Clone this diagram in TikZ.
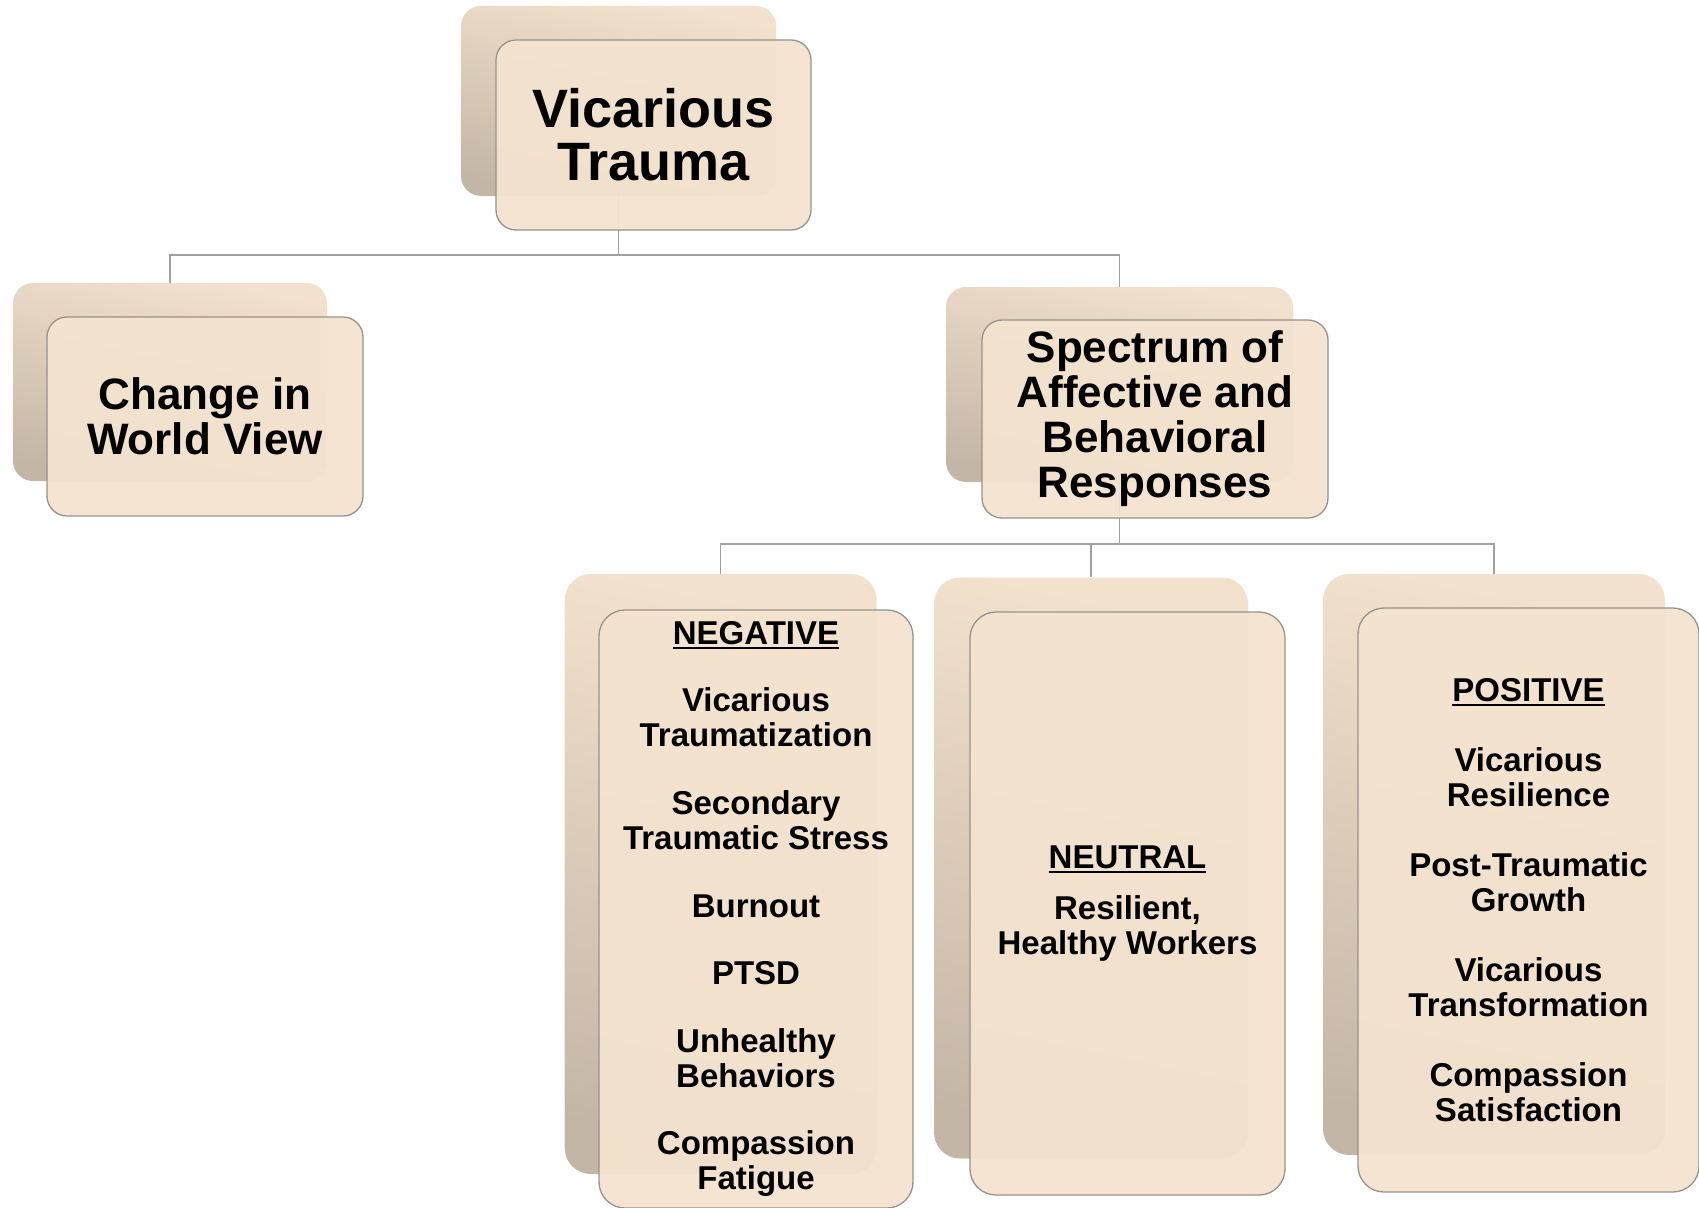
\documentclass[tikz,border=0pt]{standalone}
\usepackage{fontspec}
\setmainfont{Liberation Sans}
\definecolor{frontfill}{RGB}{243,227,207}
\definecolor{backlight}{RGB}{242,226,205}
\definecolor{backdark}{RGB}{196,182,167}
\definecolor{frontline}{RGB}{150,146,140}
\definecolor{connline}{RGB}{160,160,160}
\newcommand\hdr[1]{\setbox0\hbox{#1}\rlap{\rule[-4.5pt]{\wd0}{2.2pt}}\box0}
\begin{document}
\begin{tikzpicture}[x=1pt,y=-1pt,
  backbox/.style={rectangle, rounded corners=#1, top color=backlight, bottom color=backdark, shading angle=-12, inner sep=0pt},
  backbox/.default=20pt,
  frontbox/.style={rectangle, rounded corners=#1, draw=frontline, line width=1.3pt, fill=frontfill, fill opacity=0.95, text opacity=1, align=center, inner sep=0pt, font=\bfseries},
  frontbox/.default=20pt,
  conn/.style={draw=connline, line width=1.5pt},
  bigtxt/.style={font=\bfseries\fontsize{54}{53}\selectfont},
  midtxt/.style={font=\bfseries\fontsize{44}{45}\selectfont},
  smalltxt/.style={font=\bfseries\fontsize{33}{35}\selectfont}]
\useasboundingbox (0,0) rectangle (1699,1207);
% back boxes
\node[backbox, minimum width=315pt, minimum height=190pt] (vtb) at (618.5,101) {};
\node[backbox, minimum width=314pt, minimum height=198pt] (cwb) at (170,382) {};
\node[backbox, minimum width=347pt, minimum height=195pt] (spb) at (1119.5,384.5) {};
\node[backbox=26pt, minimum width=312pt, minimum height=600pt] (negb) at (720.7,874) {};
\node[backbox=26pt, minimum width=314pt, minimum height=581pt] (neub) at (1091,868) {};
\node[backbox=26pt, minimum width=342pt, minimum height=581pt] (posb) at (1494,864.5) {};
% connectors
\coordinate (j1) at (618.5,255);
\coordinate (j2) at (1119.5,544);
\draw[conn] (vtb.south) -- (j1) -| (cwb.north);
\draw[conn] (j1) -| (spb.north);
\draw[conn] (spb.south) -- (j2) -| (negb.north);
\draw[conn] (j2) -| (neub.north);
\draw[conn] (j2) -| (posb.north);
% front boxes
\node[frontbox, bigtxt, minimum width=315pt, minimum height=190pt] (vt) at (653.5,135) {Vicarious\\Trauma};
\node[frontbox, midtxt, minimum width=316pt, minimum height=199pt] (cw) at (205,416.5) {Change in\\World View};
\node[frontbox, midtxt, minimum width=346pt, minimum height=198pt] (sp) at (1155,419) {Spectrum of\\Affective and\\Behavioral\\Responses};
\node[frontbox=26pt, smalltxt, minimum width=314pt, minimum height=598pt] (neg) at (756,909)
  {\hdr{NEGATIVE}\\[32.6pt]Vicarious\\Traumatization\\[32.6pt]Secondary\\Traumatic Stress\\[32.6pt]Burnout\\[32.6pt]PTSD\\[32.6pt]Unhealthy\\Behaviors\\[32.6pt]Compassion\\Fatigue};
\node[frontbox=26pt, smalltxt, minimum width=315pt, minimum height=583pt] (neu) at (1127.5,903.5)
  {\hdr{NEUTRAL}\\[16pt]Resilient,\\Healthy Workers};
\node[frontbox=26pt, smalltxt, minimum width=341pt, minimum height=584pt] (pos) at (1528.5,900)
  {\hdr{POSITIVE}\\[35pt]Vicarious\\Resilience\\[35pt]Post-Traumatic\\Growth\\[35pt]Vicarious\\Transformation\\[35pt]Compassion\\Satisfaction};
\end{tikzpicture}
\end{document}
